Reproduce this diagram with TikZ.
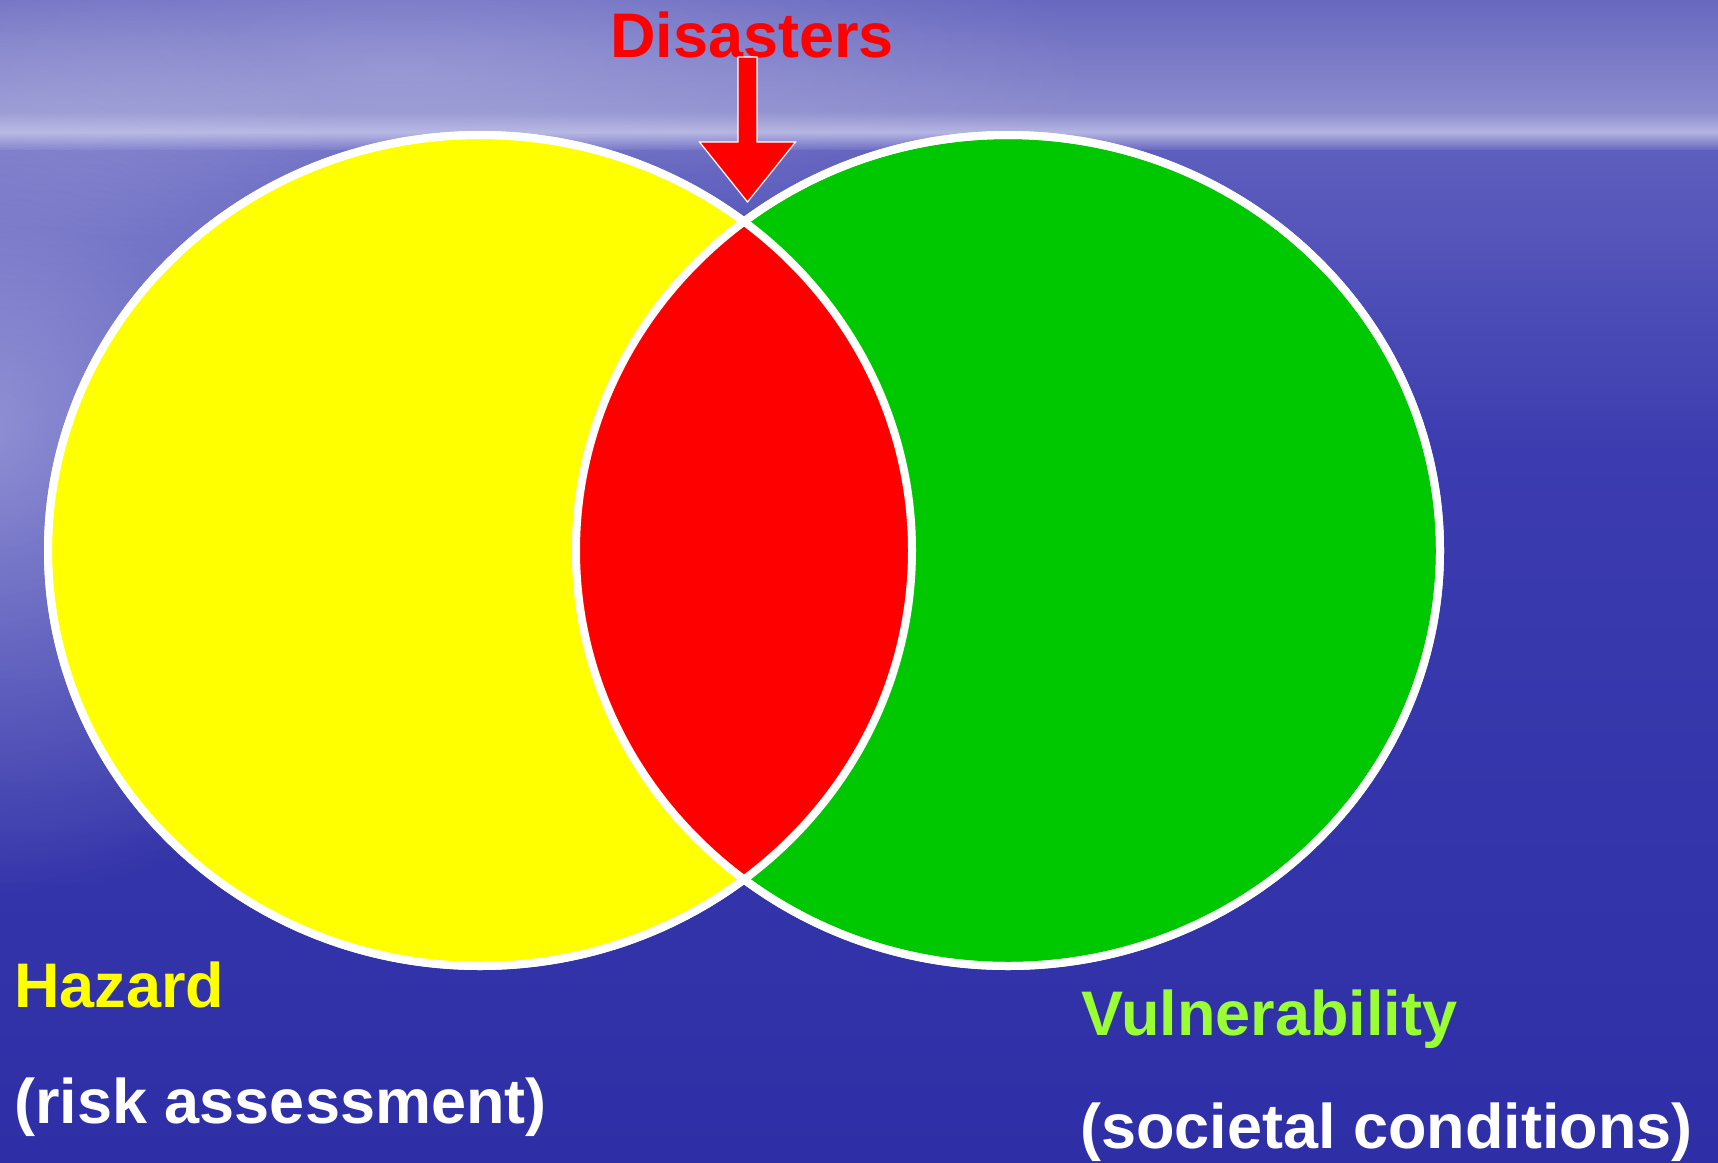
\documentclass[tikz,border=0pt]{standalone}
\usepackage{fontspec}
\setmainfont{Liberation Sans}
\usetikzlibrary{calc,fadings}

% palette
\definecolor{skytop}{HTML}{6868C0}
\definecolor{skylow}{HTML}{8C8CCE}
\definecolor{horizon}{HTML}{B4B4E2}
\definecolor{seatop}{HTML}{5E5EBE}
\definecolor{seamid}{HTML}{3C3CB0}
\definecolor{seadeep}{HTML}{2E2EA6}
\definecolor{haze}{HTML}{C8C8EC}
\definecolor{hazardfill}{HTML}{FFFF00}
\definecolor{vulnfill}{HTML}{00C800}
\definecolor{overlapfill}{HTML}{FF0000}
\definecolor{vulntext}{HTML}{99FF33}

% a glow that fades out smoothly from its centre
\tikzfading[name=softglow, inner color=transparent!0, outer color=transparent!100]

\tikzset{
  venn/.style={draw=white, line width=4pt},
  outline/.style={draw=white, line width=4pt},
  biglabel/.style={font=\fontsize{31.5pt}{37pt}\selectfont\bfseries,
                   inner sep=0pt, anchor=base west},
  blockarrow/.style={fill=overlapfill, draw=white, line width=0.6pt, line join=miter}
}

\begin{document}
\begin{tikzpicture}[x=0.5pt,y=-0.5pt]
\useasboundingbox (0,0) rectangle (1718,1162);

% sky, horizon band and sea
\shade[top color=skytop, bottom color=skylow] (0,0) rectangle (1718,114);
\shade[top color=skylow, bottom color=seatop, middle color=horizon] (0,112) rectangle (1718,152);
\shade[top color=seatop, bottom color=seamid] (0,150) rectangle (1718,452);
\shade[top color=seamid, bottom color=seadeep] (0,450) rectangle (1718,1162);

% soft light on the left side and across the upper sky
\fill[haze, opacity=0.6, path fading=softglow]
  (-500,-40) rectangle (460,900);
\fill[haze, opacity=0.35, path fading=softglow]
  (-300,-120) rectangle (1100,260);

% the two sets
\fill[hazardfill, venn] (480,550.5) ellipse [x radius=432, y radius=415.5];
\fill[vulnfill, venn] (1008,550.5) ellipse [x radius=432, y radius=415.5];

% their overlap
\begin{scope}
  \clip (480,550.5) ellipse [x radius=432, y radius=415.5];
  \fill[overlapfill] (1008,550.5) ellipse [x radius=432, y radius=415.5];
\end{scope}
\path[outline] (480,550.5) ellipse [x radius=432, y radius=415.5];
\path[outline] (1008,550.5) ellipse [x radius=432, y radius=415.5];

% labels
\node[biglabel, anchor=base, text=overlapfill] (dis) at (752,57) {Disasters};
\node[biglabel, text=hazardfill] (haz) at (14,1007) {Hazard};
\node[biglabel, text=white] (hazsub) at (14,1123) {(risk assessment)};
\node[biglabel, text=vulntext] (vul) at (1081,1035) {Vulnerability};
\node[biglabel, text=white] (vulsub) at (1080,1148) {(societal conditions)};

% block arrow from the title down to the top of the overlap
\coordinate (tip) at (747.5,202);
\fill[blockarrow]
  ($(tip)+(-9.5,-145)$) -- ($(tip)+(9.5,-145)$) -- ($(tip)+(9.5,-60)$)
  -- ($(tip)+(48,-60)$) -- (tip) -- ($(tip)+(-48,-60)$)
  -- ($(tip)+(-9.5,-60)$) -- cycle;
\end{tikzpicture}
\end{document}
